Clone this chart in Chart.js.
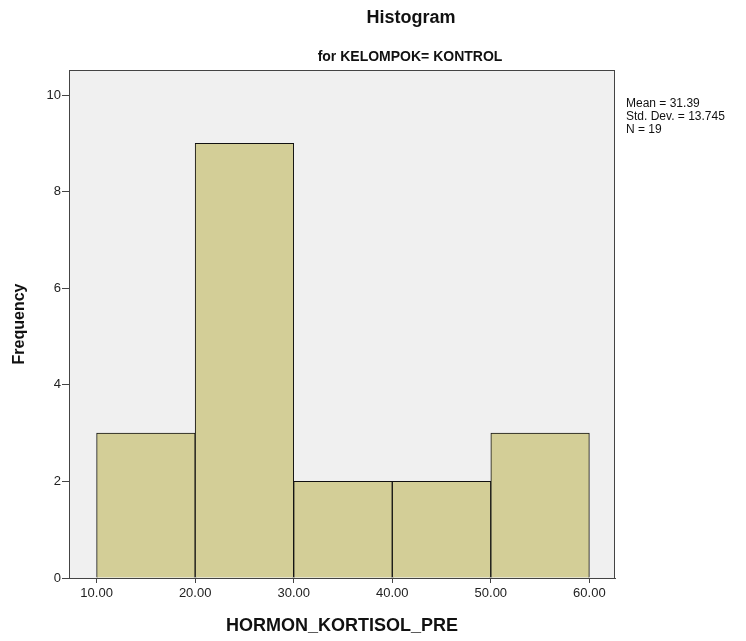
<!DOCTYPE html>
<html>
<head>
<meta charset="utf-8">
<script src="https://cdn.jsdelivr.net/npm/chart.js@4.4.0/dist/chart.umd.min.js"></script>
<style>
  html, body { margin: 0; padding: 0; background: #fff; }
  #wrap { width: 746px; height: 641px; }
</style>
</head>
<body>
<div id="wrap"><canvas id="histChart"></canvas></div>
<script>
// bin centres (width 10) and counts
const binCenters = [15, 25, 35, 45, 55];
const binCounts = [3, 9, 2, 2, 3];
const xTickValues = [10, 20, 30, 40, 50, 60];
const yTickValues = [0, 2, 4, 6, 8, 10];
const statsLines = ['Mean = 31.39', 'Std. Dev. = 13.745', 'N = 19'];

const FONT = "'Liberation Sans', Arial, sans-serif";

// grey plot background + frame, titles and the stats box
const spssDecor = {
    id: 'spssDecor',
    beforeDatasetsDraw(chart) {
        const { ctx, chartArea: a } = chart;
        ctx.save();
        ctx.fillStyle = '#f0f0f0';
        ctx.fillRect(a.left, a.top, a.right - a.left, a.bottom - a.top);
        ctx.restore();
    },
    afterDraw(chart) {
        const { ctx, chartArea: a } = chart;
        ctx.save();
        ctx.strokeStyle = '#444';
        ctx.lineWidth = 1;
        ctx.strokeRect(a.left + 0.5, a.top + 0.5, a.right - a.left - 1, a.bottom - a.top);

        ctx.fillStyle = '#111';
        ctx.textAlign = 'center';
        ctx.textBaseline = 'middle';
        ctx.font = 'bold 18px ' + FONT;
        ctx.fillText('Histogram', 411, 18);
        ctx.font = 'bold 14px ' + FONT;
        ctx.fillText('for KELOMPOK= KONTROL', 410, 57);

        ctx.textAlign = 'left';
        ctx.font = '12px ' + FONT;
        statsLines.forEach((s, i) => ctx.fillText(s, a.right + 11, 104 + i * 13));
        ctx.restore();
    }
};

new Chart(document.getElementById('histChart'), {
    type: 'bar',
    data: {
        datasets: [{
            data: binCenters.map((c, i) => ({ x: c, y: binCounts[i] })),
            backgroundColor: '#d3ce97',
            borderColor: '#111',
            borderWidth: 1,
            barPercentage: 1,
            categoryPercentage: 1
        }]
    },
    options: {
        responsive: true,
        maintainAspectRatio: false,
        animation: false,
        layout: { padding: { left: 0, top: 70, right: 131, bottom: 0 } },
        plugins: {
            legend: { display: false },
            tooltip: { enabled: false }
        },
        scales: {
            x: {
                type: 'linear',
                offset: false,
                min: 7.2,
                max: 62.6,
                afterBuildTicks: s => { s.ticks = xTickValues.map(v => ({ value: v })); },
                afterFit: s => { s.height = 63; },
                grid: { offset: false, drawOnChartArea: false, drawTicks: true, tickLength: 5, color: '#444' },
                border: { display: true, color: '#444' },
                ticks: {
                    color: '#222',
                    font: { family: FONT, size: 13 },
                    padding: 3,
                    maxRotation: 0,
                    callback: v => Number(v).toFixed(2)
                },
                title: {
                    display: true,
                    text: 'HORMON_KORTISOL_PRE',
                    color: '#111',
                    font: { family: FONT, size: 18, weight: 'bold' },
                    padding: { top: 10 }
                }
            },
            y: {
                min: 0,
                max: 10.52,
                afterBuildTicks: s => { s.ticks = yTickValues.map(v => ({ value: v })); },
                afterFit: s => { s.width = 69; },
                grid: { drawOnChartArea: false, drawTicks: true, tickLength: 7, color: '#444' },
                border: { display: true, color: '#444' },
                ticks: {
                    color: '#222',
                    font: { family: FONT, size: 13 },
                    padding: 1
                },
                title: {
                    display: true,
                    text: 'Frequency',
                    color: '#111',
                    font: { family: FONT, size: 16, weight: 'bold' },
                    padding: { top: 10, bottom: 0 }
                }
            }
        }
    },
    plugins: [spssDecor]
});
</script>
</body>
</html>
